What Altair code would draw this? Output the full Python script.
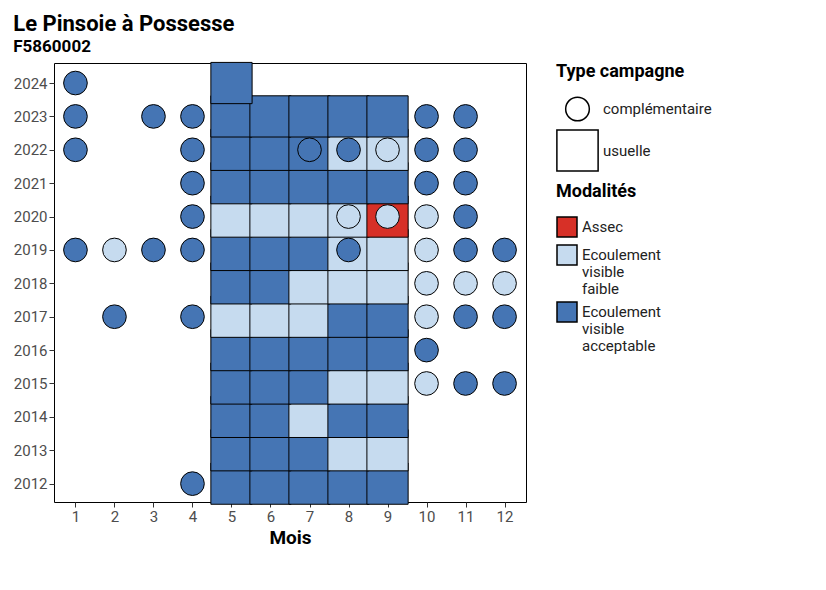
import pandas as pd
import altair as alt

A, F, S = "Ecoulement visible acceptable", "Ecoulement visible faible", "Assec"

# usuelle campaigns (months 5-9), one string per year: a=acceptable, f=faible, s=assec
usuelle = {
    2012: "aaaaa", 2013: "aaaff", 2014: "aafaa", 2015: "aaaff",
    2016: "aaaaa", 2017: "fffaa", 2018: "aafff", 2019: "aaaff",
    2020: "ffffs", 2021: "aaaaa", 2022: "aaaff", 2023: "aaaaa",
    2024: "a",
}
# complementary campaigns: (year, month, code)
compl = [
    (2024, 1, "a"),
    (2023, 1, "a"), (2023, 3, "a"), (2023, 4, "a"), (2023, 10, "a"), (2023, 11, "a"),
    (2022, 1, "a"), (2022, 4, "a"), (2022, 7, "a"), (2022, 8, "a"), (2022, 9, "f"),
    (2022, 10, "a"), (2022, 11, "a"),
    (2021, 4, "a"), (2021, 10, "a"), (2021, 11, "a"),
    (2020, 4, "a"), (2020, 8, "f"), (2020, 9, "f"), (2020, 10, "f"), (2020, 11, "a"),
    (2019, 1, "a"), (2019, 2, "f"), (2019, 3, "a"), (2019, 4, "a"), (2019, 8, "a"),
    (2019, 10, "f"), (2019, 11, "a"), (2019, 12, "a"),
    (2018, 10, "f"), (2018, 11, "f"), (2018, 12, "f"),
    (2017, 2, "a"), (2017, 4, "a"), (2017, 10, "f"), (2017, 11, "a"), (2017, 12, "a"),
    (2016, 10, "a"),
    (2015, 10, "f"), (2015, 11, "a"), (2015, 12, "a"),
    (2012, 4, "a"),
]
codes = {"a": A, "f": F, "s": S}

rows = []
for year, s in usuelle.items():
    for i, c in enumerate(s):
        rows.append({"annee": year, "mois": 5 + i, "mod": codes[c], "type": "usuelle", "o": 0})
for year, m, c in compl:
    rows.append({"annee": year, "mois": m, "mod": codes[c], "type": "complémentaire", "o": 1})
df = pd.DataFrame(rows)

chart = alt.Chart(df).mark_point(filled=True, opacity=1, stroke="black", strokeWidth=1, clip=False).encode(
    x=alt.X("mois:Q", title="Mois", scale=alt.Scale(domain=[0.45, 12.55], nice=False, zero=False),
            axis=alt.Axis(values=list(range(1, 13)), format="d")),
    y=alt.Y("annee:Q", title=None, scale=alt.Scale(domain=[2011.45, 2024.6], nice=False, zero=False),
            axis=alt.Axis(values=list(range(2012, 2025)), format="d")),
    fill=alt.Fill("mod:N", title="Modalités",
                  scale=alt.Scale(domain=[S, F, A], range=["#d73027", "#c6dbef", "#4575b4"]),
                  legend=alt.Legend(symbolType="square", symbolSize=400, symbolStrokeColor="black",
                                    labelExpr="datum.label == 'Assec' ? datum.label : split(datum.label, ' ')",
                                    orient="right")),
    shape=alt.Shape("type:N", title="Type campagne",
                    scale=alt.Scale(domain=["complémentaire", "usuelle"], range=["circle", "square"])),
    size=alt.Size("type:N", title="Type campagne",
                  scale=alt.Scale(domain=["complémentaire", "usuelle"], range=[560, 1700])),
    order=alt.Order("o:Q"),
).properties(
    width=472, height=439,
    title=alt.Title("Le Pinsoie à Possesse", subtitle="F5860002", anchor="start",
                    fontSize=22, subtitleFontSize=17, subtitleFontWeight="bold",
                    subtitleColor="black", font="Roboto", subtitleFont="Roboto"),
).configure_view(stroke="black", strokeWidth=1).configure_axis(
    grid=False, labelFontSize=15, labelColor="#4d4d4d", titleFontSize=19, titleColor="black",
    labelFont="Roboto", titleFont="Roboto", tickColor="#333", domain=False,
).configure_legend(
    titleFontSize=18, labelFontSize=15, titleFont="Roboto", labelFont="Roboto",
    symbolFillColor="white", symbolStrokeColor="black", labelColor="#222",
    titlePadding=15, offset=30,
)

chart.save("out.html", embed_options={"renderer": "svg", "actions": False})
